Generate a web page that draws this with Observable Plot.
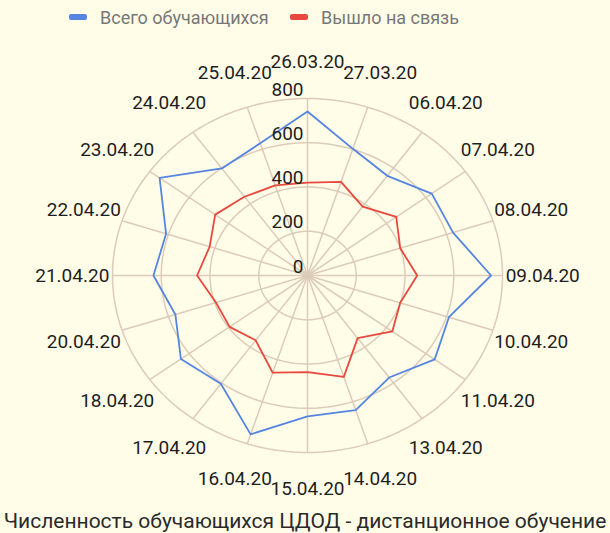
<!DOCTYPE html>
<html>
<head>
<meta charset="utf-8">
<script src="https://cdn.jsdelivr.net/npm/d3@7"></script>
<script src="https://cdn.jsdelivr.net/npm/@observablehq/plot@0.6"></script>
<style>
  html, body { margin: 0; padding: 0; background: #fffde8; }
  body { width: 610px; height: 533px; overflow: hidden; font-family: Roboto, sans-serif; }
  #legend { height: 34px; position: relative; font-size: 18px; color: #777; }
  .item { position: absolute; top: 0; height: 34px; display: flex; align-items: center; }
  .sw { width: 18px; height: 6px; border-radius: 2px; margin-right: 13px; }
  #caption { text-align: center; font-size: 21px; color: #2a2a2a; line-height: 26px; padding-top: 4px; white-space: nowrap; }
</style>
</head>
<body>
<div id="legend"></div>
<div id="chart"></div>
<div id="caption"></div>
<script>
const categories = ["26.03.20","27.03.20","06.04.20","07.04.20","08.04.20","09.04.20","10.04.20","11.04.20","13.04.20","14.04.20","15.04.20","16.04.20","17.04.20","18.04.20","20.04.20","21.04.20","22.04.20","23.04.20","24.04.20","25.04.20"];
const totalStudents = [741, 602, 557, 630, 628, 753, 610, 645, 570, 640, 637, 755, 605, 642, 570, 632, 610, 750, 598, 628];
const contacted = [420, 445, 385, 450, 400, 450, 400, 430, 350, 482, 437, 462, 362, 395, 395, 453, 422, 468, 440, 428];
const radialTicks = [0, 200, 400, 600, 800];
const seriesNames = ["Всего обучающихся", "Вышло на связь"];
const captionText = "Численность обучающихся ЦДОД - дистанционное обучение";

const BLUE = "#5585e0", RED = "#e8483d", GRID = "#dccbb9";
const MAXV = 800, LABEL_R = 965;
const n = categories.length;
const rows = categories.map((c, i) => ({c, a: i * 2 * Math.PI / n, total: totalStudents[i], online: contacted[i]}));
const px = (v, a) => v * Math.sin(a);
const py = (v, a) => v * Math.cos(a);

const ringPts = radialTicks.filter(t => t > 0).flatMap(t => d3.range(0, 360, 2).map(deg => ({t, a: deg * Math.PI / 180})));

const chart = Plot.plot({
  width: 610,
  height: 470,
  margin: 0,
  style: {background: "transparent", fontFamily: "Roboto, sans-serif"},
  x: {domain: [-MAXV, MAXV], range: [112, 502], axis: null},
  y: {domain: [-MAXV, MAXV], range: [418, 64], axis: null},
  marks: [
    Plot.line(ringPts, {x: d => px(d.t, d.a), y: d => py(d.t, d.a), z: "t", curve: "linear-closed", stroke: GRID, strokeWidth: 1.5}),
    Plot.link(rows, {x1: 0, y1: 0, x2: d => px(MAXV, d.a), y2: d => py(MAXV, d.a), stroke: GRID, strokeWidth: 1.5}),
    Plot.line(rows, {x: d => px(d.online, d.a), y: d => py(d.online, d.a), curve: "linear-closed", stroke: RED, strokeWidth: 1.8}),
    Plot.line(rows, {x: d => px(d.total, d.a), y: d => py(d.total, d.a), curve: "linear-closed", stroke: BLUE, strokeWidth: 1.8}),
    Plot.text(radialTicks, {x: 0, y: d => d, text: d => String(d), textAnchor: "end", lineAnchor: "bottom", dx: -4, dy: -3, fontSize: 19, fill: "#1e1e1e"}),
    Plot.text(rows, {x: d => px(LABEL_R, d.a), y: d => py(LABEL_R, d.a), text: "c", textAnchor: "middle", lineAnchor: "middle", fontSize: 19, fill: "#1e1e1e"})
  ]
});
document.getElementById("chart").appendChild(chart);

const legend = document.getElementById("legend");
const lpos = [69, 290];
[BLUE, RED].forEach((col, i) => {
  const it = document.createElement("div");
  it.className = "item";
  it.style.left = lpos[i] + "px";
  it.innerHTML = `<span class="sw" style="background:${col}"></span><span>${seriesNames[i]}</span>`;
  legend.appendChild(it);
});
document.getElementById("caption").textContent = captionText;
</script>
</body>
</html>
